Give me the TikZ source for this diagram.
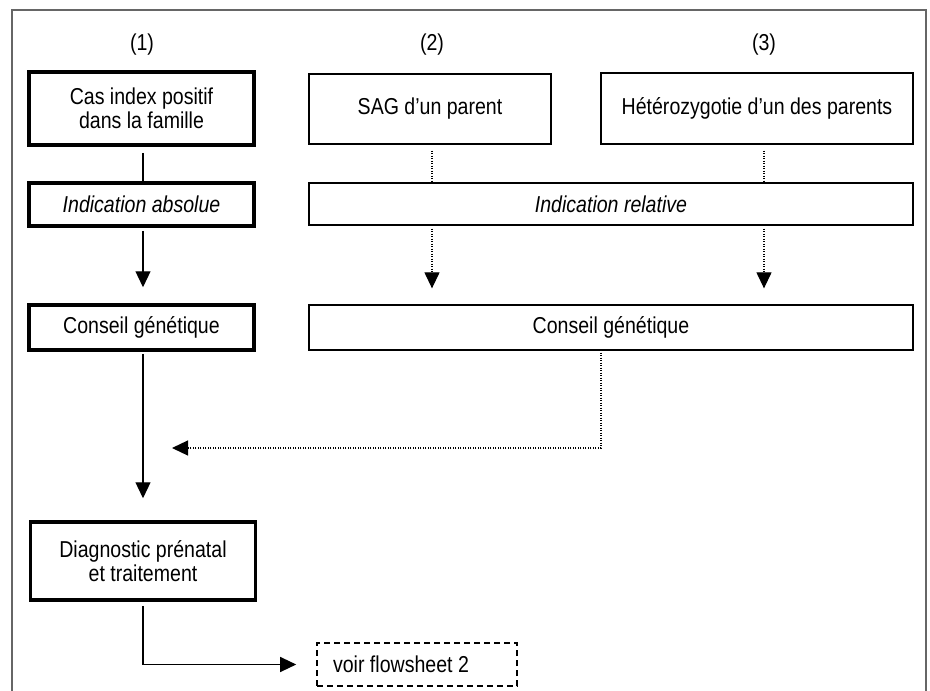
\documentclass[tikz,border=0pt]{standalone}
\usepackage{fontspec}
\setmainfont[FakeStretch=0.85]{Liberation Sans}
\usetikzlibrary{arrows.meta}
\begin{document}
\begin{tikzpicture}[x=1pt,y=-1pt,
  every node/.style={font=\fontsize{23}{24}\selectfont, align=center, inner sep=0pt},
  thickbox/.style={draw, line width=3.5pt, minimum width=225pt},
  thinbox/.style={draw, line width=1.3pt},
  dashbox/.style={draw, line width=1.6pt, dash pattern=on 6pt off 4pt, minimum width=200pt, minimum height=43pt},
  dotline/.style={line width=1.2pt, dash pattern=on 1.2pt off 1.3pt},
  solidline/.style={line width=1.2pt},
  arr/.style={-{Triangle[length=16pt,width=15pt]}},
  lbl/.style={}
]
\useasboundingbox (0,0) rectangle (930,691);
\fill[white] (0,0) rectangle (930,691);
% frame
\draw[line width=1.6pt, black!60] (12,691) -- (12,10) -- (926,10) -- (926,691);

% labels
\node[lbl] (l1) at (142,45) {(1)};
\node[lbl] (l2) at (432,45) {(2)};
\node[lbl] (l3) at (764,45) {(3)};

% left column
\node[thickbox, minimum height=73pt] (cas) at (141.5,108.5) {Cas index positif\\dans la famille};
\node[thickbox, minimum height=43pt] (abs) at (141.5,204.5) {\itshape Indication absolue};
\node[thickbox, minimum height=45pt] (cg1) at (141.5,327.5) {Conseil génétique};
\node[thickbox, minimum height=78pt] (diag) at (143,561) {Diagnostic prénatal\\et traitement};
\node[dashbox] (voir) at (417,664.5) {voir flowsheet 2\hspace*{32pt}};

% right columns
\node[thinbox, minimum width=242pt, minimum height=70pt] (sag) at (430,109) {SAG d’un parent};
\node[thinbox, minimum width=312pt, minimum height=71pt] (het) at (757,108.5) {Hétérozygotie d’un des parents};
\node[thinbox, minimum width=604pt, minimum height=42pt] (rel) at (611,204) {\itshape Indication relative};
\node[thinbox, minimum width=604pt, minimum height=45pt] (cg2) at (611,327.5) {Conseil génétique};

% helper coordinates
\coordinate (xa) at (143,0);
\coordinate (xb) at (432,0);
\coordinate (xc) at (764,0);
\coordinate (xd) at (601,0);
\coordinate (tipd) at (172,448);

% connectors left
\draw[solidline, shorten <=6pt] (xa |- cas.south) -- (xa |- abs.north);
\draw[solidline, arr, shorten <=3pt, shorten >=16pt] (xa |- abs.south) -- (xa |- cg1.north);
\draw[solidline, arr, shorten <=2pt, shorten >=22pt] (xa |- cg1.south) -- (xa |- diag.north);
\draw[solidline, arr, shorten <=4pt, shorten >=20pt] (xa |- diag.south) |- (voir.west);

% dotted connectors
\draw[dotline, shorten <=6pt] (xb |- sag.south) -- (xb |- rel.north);
\draw[dotline, shorten <=6pt] (xc |- het.south) -- (xc |- rel.north);
\draw[dotline, arr, shorten <=3pt, shorten >=16pt] (xb |- rel.south) -- (xb |- cg2.north);
\draw[dotline, arr, shorten <=3pt, shorten >=16pt] (xc |- rel.south) -- (xc |- cg2.north);
\draw[dotline, arr, shorten <=2pt] (xd |- cg2.south) |- (tipd);
\end{tikzpicture}
\end{document}
